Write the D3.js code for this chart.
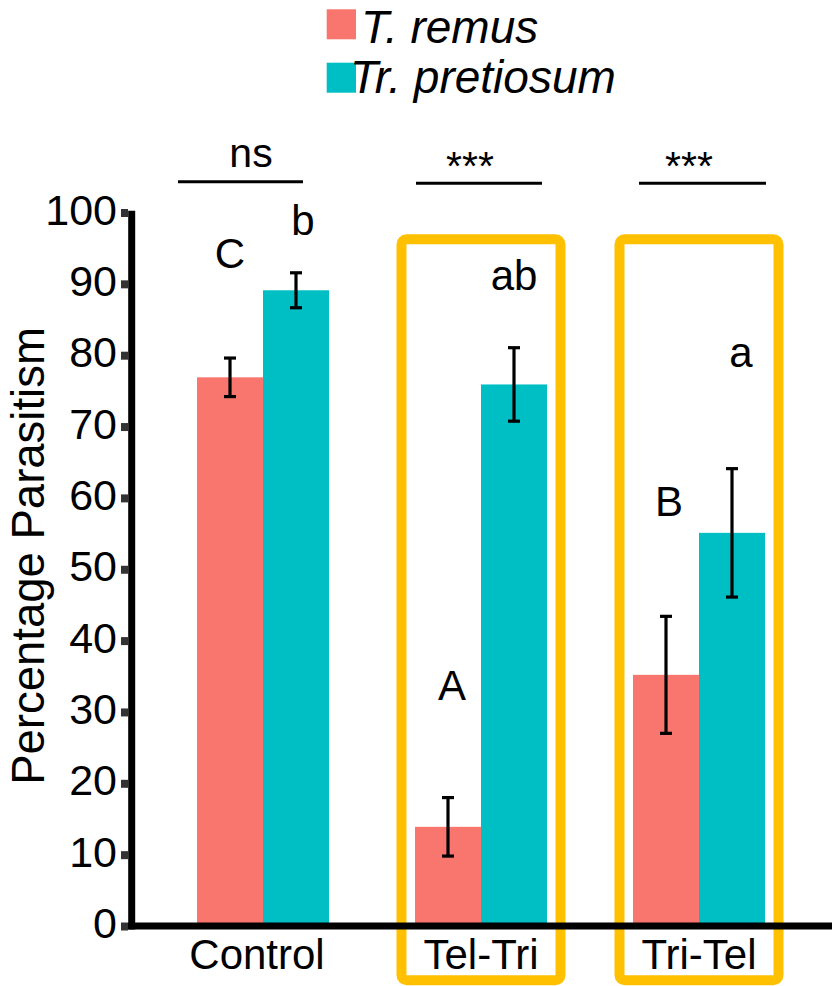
<!DOCTYPE html>
<html>
<head>
<meta charset="utf-8">
<script src="https://cdn.jsdelivr.net/npm/d3@7"></script>
<style>
  body { margin: 0; background: #fff; }
  text { font-family: "Liberation Sans", Arial, sans-serif; fill: #000; }
</style>
</head>
<body>
<div id="main"></div>
<script>
/* Size */
const width = 832, height = 986;

/* Data */
const categories = ["Control", "Tel-Tri", "Tri-Tel"];
const series = ["T. remus", "Tr. pretiosum"];
const remusMean = [76.9, 13.9, 35.2];
const remusErr = [2.7, 4.1, 8.2];
const pretiosumMean = [89.1, 75.9, 55.1];
const pretiosumErr = [2.45, 5.15, 9.0];
const yTicks = [0, 10, 20, 30, 40, 50, 60, 70, 80, 90, 100];
const letters = [["C", "b"], ["A", "ab"], ["B", "a"]];
const letterLevel = [[92.2, 96.9], [31.7, 89.1], [57.5, 78.4]]; // where the letter sits, in % units
const sigLabels = ["ns", "***", "***"];
const boxedCats = ["Tel-Tri", "Tri-Tel"];
const colors = ["#F8766D", "#00BFC4"];

const means = [remusMean, pretiosumMean];
const errs = [remusErr, pretiosumErr];

/* Scales */
const y = d3.scaleLinear().domain([0, 100]).range([926, 212.5]);
const x0 = d3.scaleBand().domain(categories).range([154, 808]);
const groupW = 132;
const gOff = (x0.bandwidth() - groupW) / 2;
const x1 = d3.scaleBand().domain(series).range([0, groupW]);
const color = d3.scaleOrdinal().domain(series).range(colors);

const svg = d3.select("#main").append("svg")
  .attr("width", width).attr("height", height);

// flatten into bar records
const bars = [];
categories.forEach((c, i) => {
  series.forEach((s, j) => {
    bars.push({cat: c, ser: s, v: means[j][i], e: errs[j][i], letter: letters[i][j], ly: letterLevel[i][j]});
  });
});

/* Bars */
svg.append("g").selectAll("rect").data(bars).enter().append("rect")
  .attr("x", d => x0(d.cat) + gOff + x1(d.ser))
  .attr("y", d => y(d.v))
  .attr("width", x1.bandwidth())
  .attr("height", d => y(0) - y(d.v))
  .attr("fill", d => color(d.ser));

/* Error bars */
const eb = svg.append("g").attr("stroke", "#000").attr("stroke-width", 3.2);
const cx = d => x0(d.cat) + gOff + x1(d.ser) + x1.bandwidth() / 2;
eb.selectAll(".v").data(bars).enter().append("line")
  .attr("x1", cx).attr("x2", cx)
  .attr("y1", d => y(d.v + d.e)).attr("y2", d => y(d.v - d.e));
eb.selectAll(".t").data(bars).enter().append("line")
  .attr("x1", d => cx(d) - 6).attr("x2", d => cx(d) + 6)
  .attr("y1", d => y(d.v + d.e)).attr("y2", d => y(d.v + d.e));
eb.selectAll(".b").data(bars).enter().append("line")
  .attr("x1", d => cx(d) - 6).attr("x2", d => cx(d) + 6)
  .attr("y1", d => y(d.v - d.e)).attr("y2", d => y(d.v - d.e));

/* Letters */
const letterShift = {"b": 7, "a": 9, "A": 4, "B": 3};
svg.append("g").selectAll("text").data(bars).enter().append("text")
  .attr("x", d => cx(d) + (letterShift[d.letter] || 0))
  .attr("y", d => y(d.ly))
  .attr("text-anchor", "middle")
  .attr("font-size", 42)
  .text(d => d.letter);

/* Yellow boxes */
svg.append("g").selectAll("rect").data(boxedCats).enter().append("rect")
  .attr("x", d => x0(d) + x0.bandwidth() / 2 - 79.5)
  .attr("y", 239.2)
  .attr("width", 159)
  .attr("height", 741)
  .attr("rx", 5)
  .attr("fill", "none")
  .attr("stroke", "#FFC000")
  .attr("stroke-width", 10);

/* Y axis */
const yAxis = svg.append("g").attr("transform", "translate(128,0)")
  .call(d3.axisLeft(y).tickValues(yTicks).tickSize(7).tickPadding(4));
yAxis.select(".domain").remove();
yAxis.selectAll(".tick line").attr("stroke", "#333").attr("stroke-width", 8);
yAxis.selectAll(".tick text")
  .attr("font-size", 43)
  .attr("font-family", "Liberation Sans, Arial, sans-serif")
  .attr("fill", "#000")
  .attr("dy", "0.27em");

svg.append("line").attr("x1", 131.7).attr("x2", 131.7).attr("y1", 210.7).attr("y2", 929.5)
  .attr("stroke", "#000").attr("stroke-width", 7);
svg.append("line").attr("x1", 128).attr("x2", 832).attr("y1", y(0)).attr("y2", y(0))
  .attr("stroke", "#000").attr("stroke-width", 7);

/* X labels */
svg.append("g").selectAll("text").data(categories).enter().append("text")
  .attr("x", d => x0(d) + x0.bandwidth() / 2 + (d === "Control" ? -6 : 0))
  .attr("y", 969)
  .attr("text-anchor", "middle")
  .attr("font-size", 42)
  .text(d => d);

/* Y title */
svg.append("text")
  .attr("transform", "translate(44,556) rotate(-90)")
  .attr("text-anchor", "middle")
  .attr("font-size", 45.5)
  .text("Percentage Parasitism");

/* Significance */
const sigLine = {"Control": [-85, 40, 181.7], "Tel-Tri": [-65, 61, 183.3], "Tri-Tel": [-60, 67, 183.3]};
const sigText = {"Control": -12, "Tel-Tri": -11, "Tri-Tel": -10};
categories.forEach((c, i) => {
  const mid = x0(c) + x0.bandwidth() / 2;
  const s = sigLine[c];
  svg.append("line").attr("x1", mid + s[0]).attr("x2", mid + s[1])
    .attr("y1", s[2]).attr("y2", s[2])
    .attr("stroke", "#000").attr("stroke-width", 3);
  svg.append("text")
    .attr("x", mid + sigText[c])
    .attr("y", i === 0 ? 167 : 180)
    .attr("text-anchor", "middle")
    .attr("font-size", 41)
    .text(sigLabels[i]);
});

/* Legend */
const leg = svg.append("g");
const legY = [9.3, 62.7];
const legTx = [361, 350];
const legBase = [43, 93];
series.forEach((s, i) => {
  leg.append("rect").attr("x", 326.7).attr("y", legY[i]).attr("width", 29.3).attr("height", 30)
    .attr("fill", color(s));
  leg.append("text").attr("x", legTx[i]).attr("y", legBase[i])
    .attr("font-size", 46).attr("font-style", "italic")
    .text(s);
});
</script>
</body>
</html>
